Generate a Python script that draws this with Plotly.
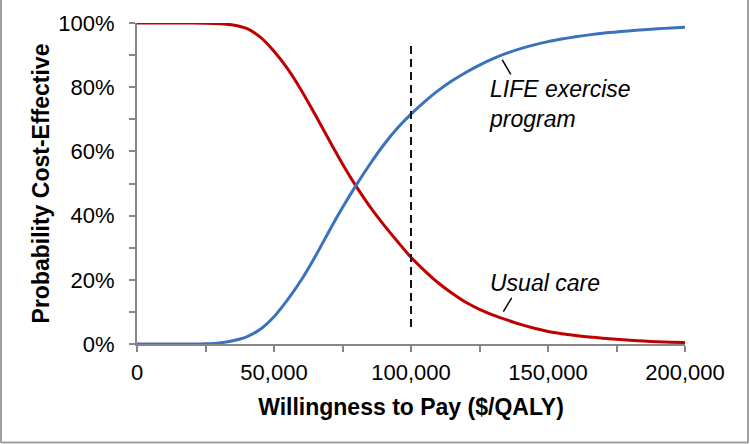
import plotly.graph_objects as go

wtp = list(range(0, 200001, 5000))
life_exercise = [0, 0, 0, 0, 0, 0.08, 0.35, 1.0, 2.2, 4.6, 8.5, 13.8, 20.0, 27.2, 35.0, 42.5,
                 49.5, 56.0, 62.0, 67.2, 71.6, 75.5, 79.0, 82.0, 84.6, 86.9, 88.9, 90.6,
                 92.0, 93.2, 94.2, 95.0, 95.7, 96.3, 96.8, 97.2, 97.6, 97.9, 98.2, 98.45, 98.7]
usual_care = [100, 100, 100, 100, 100, 99.95, 99.8, 99.4, 98.3, 95.6, 91.2, 85.7, 79.0, 71.5,
              63.7, 56.1, 49.1, 42.8, 37.2, 32.0, 27.0, 22.8, 19.0, 15.8, 13.0, 10.8, 9.0,
              7.5, 6.1, 4.9, 3.9, 3.2, 2.65, 2.2, 1.8, 1.45, 1.15, 0.9, 0.7, 0.55, 0.45]
threshold = 100000
x_ticks = [0, 50000, 100000, 150000, 200000]
x_tick_labels = ["0", "50,000", "100,000", "150,000", "200,000"]
y_ticks = [0, 20, 40, 60, 80, 100]
y_tick_labels = ["0%", "20%", "40%", "60%", "80%", "100%"]

FONT = "Liberation Sans, Arial, sans-serif"
AXIS_GRAY = "#868686"

fig = go.Figure()
fig.add_trace(go.Scatter(x=wtp, y=usual_care, mode="lines", name="Usual care",
                         line=dict(color="#C00000", width=3, shape="spline", smoothing=0.8), showlegend=False))
fig.add_trace(go.Scatter(x=wtp, y=life_exercise, mode="lines", name="LIFE exercise program",
                         line=dict(color="#3A72BE", width=3, shape="spline", smoothing=0.8), showlegend=False))

# threshold dashed line
fig.add_shape(type="line", xref="x", yref="y", x0=threshold, x1=threshold, y0=5.3, y1=93.8,
              line=dict(color="#111111", width=2, dash="8px,5px"))
# pointer lines
fig.add_shape(type="line", xref="x", yref="y", x0=133300, y0=88.5, x1=136400, y1=84.0,
              line=dict(color="black", width=1.5))
fig.add_shape(type="line", xref="x", yref="y", x0=136750, y0=14.4, x1=133700, y1=10.1,
              line=dict(color="black", width=1.5))

fig.add_annotation(x=127700, y=74.9, xref="x", yref="y", xanchor="left", yanchor="middle",
                   text="<i>LIFE exercise<br>program</i>", showarrow=False, align="left",
                   font=dict(family=FONT, size=23, color="black"))
fig.add_annotation(x=128050, y=19.0, xref="x", yref="y", xanchor="left", yanchor="middle",
                   text="<i>Usual care</i>", showarrow=False, align="left",
                   font=dict(family=FONT, size=23, color="black"))

# outer border (left, right, bottom)
L, R, T, B = 137, 65, 23, 100
W, H = 750, 444
pw, ph = W - L - R, H - T - B
def px(xp):
    return (xp - L) / pw
def py(yp):
    return (H - B - yp) / ph
border = dict(color="#A0A0A0", width=2)
fig.add_shape(type="line", xref="paper", yref="paper", x0=px(1), x1=px(1), y0=py(0), y1=py(443), line=border)
fig.add_shape(type="line", xref="paper", yref="paper", x0=px(748), x1=px(748), y0=py(0), y1=py(443), line=border)
fig.add_shape(type="line", xref="paper", yref="paper", x0=px(1), x1=px(748), y0=py(442.5), y1=py(442.5), line=border)

fig.update_layout(
    width=W, height=H,
    margin=dict(l=L, r=R, t=T, b=B),
    paper_bgcolor="white", plot_bgcolor="white",
    font=dict(family=FONT, size=22, color="black"),
    xaxis=dict(range=[0, 200000], tickvals=x_ticks, ticktext=x_tick_labels,
               showgrid=False, zeroline=False, showline=True, linecolor=AXIS_GRAY, linewidth=2,
               ticks="outside", ticklen=6, tickwidth=2, tickcolor=AXIS_GRAY,
               minor=dict(dtick=25000, tick0=0, ticks="outside", ticklen=6, tickwidth=2, tickcolor=AXIS_GRAY),
               tickfont=dict(family=FONT, size=22), ticklabelstandoff=2,
               title=dict(text="<b>Willingness to Pay ($/QALY)</b>", font=dict(family=FONT, size=23), standoff=14)),
    yaxis=dict(range=[0, 100], tickvals=y_ticks, ticktext=y_tick_labels,
               showgrid=False, zeroline=False, showline=True, linecolor=AXIS_GRAY, linewidth=2,
               ticks="outside", ticklen=6, tickwidth=2, tickcolor=AXIS_GRAY,
               minor=dict(dtick=10, tick0=0, ticks="outside", ticklen=6, tickwidth=2, tickcolor=AXIS_GRAY),
               tickfont=dict(family=FONT, size=22), ticklabelstandoff=10,
               title=dict(text="<b>Probability Cost-Effective</b>", font=dict(family=FONT, size=23), standoff=2)),
)

fig.write_html("out.html", config={"displayModeBar": False},
               post_script="document.body.style.margin='0';document.body.style.overflow='hidden';")
